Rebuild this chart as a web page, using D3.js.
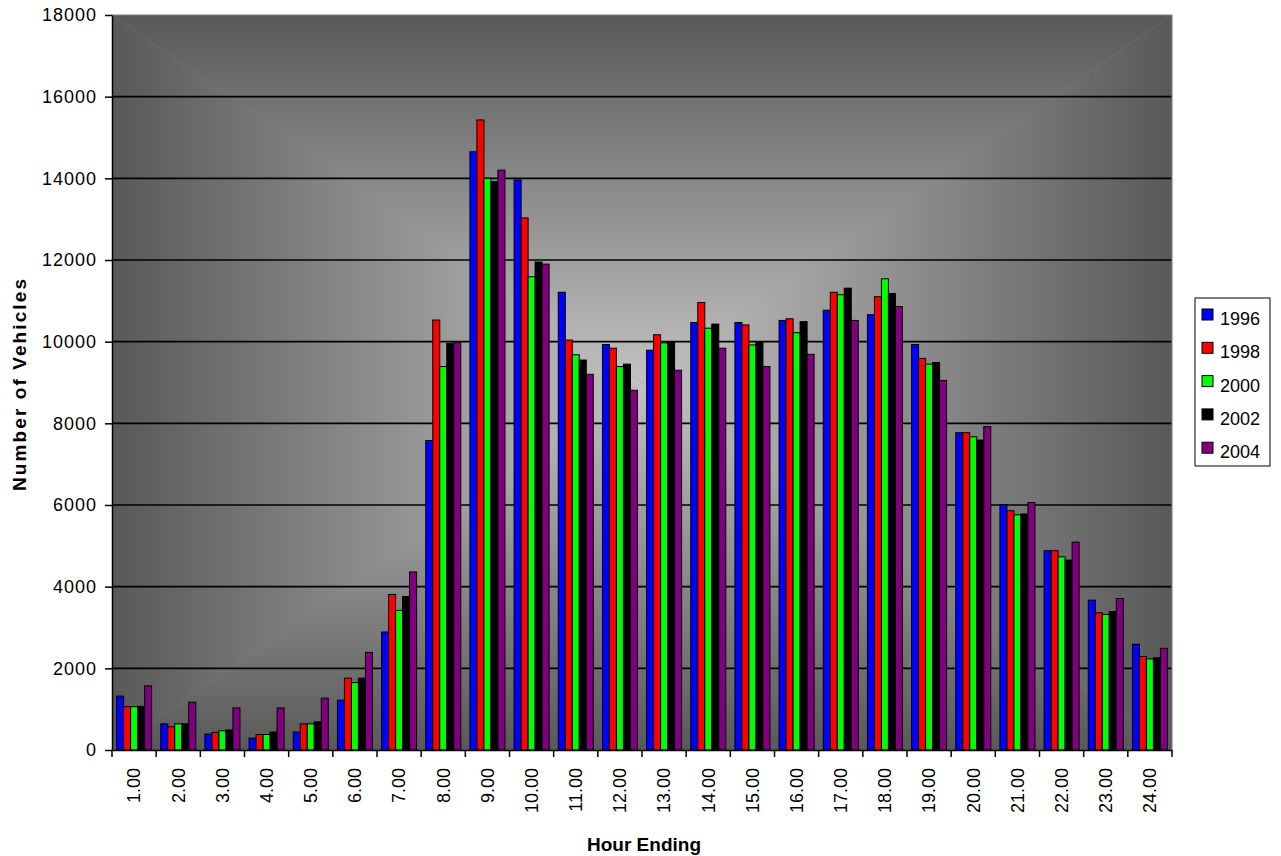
<!DOCTYPE html>
<html>
<head>
<meta charset="utf-8">
<script src="https://cdn.jsdelivr.net/npm/d3@7"></script>
<style>
  html, body { margin: 0; padding: 0; background: #ffffff; }
  svg { display: block; font-family: "Liberation Sans", Arial, sans-serif; }
</style>
</head>
<body>
<svg id="chart" width="1281" height="856"></svg>
<script>
// Hourly traffic volumes by survey year
const hours = ["1.00","2.00","3.00","4.00","5.00","6.00","7.00","8.00","9.00","10.00","11.00","12.00",
               "13.00","14.00","15.00","16.00","17.00","18.00","19.00","20.00","21.00","22.00","23.00","24.00"];
const years = ["1996","1998","2000","2002","2004"];
const v1996 = [1320, 640, 390, 290, 440, 1220, 2890, 7580, 14650, 13960, 11210, 9930, 9790, 10470, 10470, 10520, 10770, 10660, 9930, 7770, 6010, 4880, 3670, 2590];
const v1998 = [1060, 570, 430, 380, 640, 1760, 3810, 10530, 15430, 13030, 10040, 9840, 10170, 10960, 10410, 10560, 11210, 11100, 9590, 7770, 5860, 4880, 3360, 2290];
const v2000 = [1060, 640, 470, 380, 640, 1650, 3420, 9390, 14000, 11590, 9680, 9390, 9970, 10330, 9920, 10220, 11150, 11540, 9450, 7670, 5760, 4730, 3320, 2230];
const v2002 = [1070, 640, 490, 440, 690, 1760, 3760, 9960, 13920, 11950, 9550, 9450, 9990, 10430, 9990, 10490, 11310, 11180, 9490, 7590, 5780, 4650, 3390, 2260];
const v2004 = [1570, 1170, 1030, 1030, 1270, 2390, 4360, 9980, 14200, 11900, 9200, 8810, 9300, 9840, 9390, 9690, 10520, 10860, 9050, 7920, 6060, 5090, 3710, 2490];
const yTicks = [0, 2000, 4000, 6000, 8000, 10000, 12000, 14000, 16000, 18000];
const seriesColors = ["#0000ff", "#ff0000", "#00ff00", "#000000", "#800080"];

const seriesValues = [v1996, v1998, v2000, v2002, v2004];
const rows = hours.map((h, i) => ({
  hour: h,
  values: years.map((y, s) => ({ year: y, value: seriesValues[s][i] }))
}));

const svg = d3.select("#chart");
const plot = { left: 112, right: 1172, top: 15, bottom: 750 };

const x0 = d3.scaleBand().domain(hours).range([plot.left, plot.right]).padding(0);
const x1 = d3.scaleBand().domain(years).range([4.6, 4.6 + 35]);
const y = d3.scaleLinear().domain([0, 18000]).range([plot.bottom, plot.top]);
const color = d3.scaleOrdinal().domain(years).range(seriesColors);

// Plot area background: box gradient, light in the middle, darker toward every edge
const cx = (plot.left + plot.right) / 2, cy = (plot.top + plot.bottom) / 2;
const edgeColor = "#595959", centerColor = "#c2c2c2";
const defs = svg.append("defs");
const sides = [
  { id: "gTop",    g: [cx, plot.top, cx, cy],    pts: [[plot.left, plot.top], [plot.right, plot.top], [cx, cy]] },
  { id: "gBottom", g: [cx, plot.bottom, cx, cy], pts: [[plot.left, plot.bottom], [plot.right, plot.bottom], [cx, cy]] },
  { id: "gLeft",   g: [plot.left, cy, cx, cy],   pts: [[plot.left, plot.top], [plot.left, plot.bottom], [cx, cy]] },
  { id: "gRight",  g: [plot.right, cy, cx, cy],  pts: [[plot.right, plot.top], [plot.right, plot.bottom], [cx, cy]] }
];
sides.forEach(s => {
  const lg = defs.append("linearGradient").attr("id", s.id).attr("gradientUnits", "userSpaceOnUse")
    .attr("x1", s.g[0]).attr("y1", s.g[1]).attr("x2", s.g[2]).attr("y2", s.g[3]);
  lg.append("stop").attr("offset", "0").attr("stop-color", edgeColor);
  lg.append("stop").attr("offset", "1").attr("stop-color", centerColor);
});
const bg = svg.append("g");
bg.append("rect")
  .attr("x", plot.left).attr("y", plot.top)
  .attr("width", plot.right - plot.left).attr("height", plot.bottom - plot.top)
  .attr("fill", "#8c8c8c");
sides.forEach(s => {
  bg.append("path")
    .attr("d", d3.line()(s.pts) + "Z")
    .attr("fill", `url(#${s.id})`);
});

// Horizontal gridlines
svg.append("g").selectAll("line")
  .data(yTicks.filter(t => t > 0 && t < 18000))
  .join("line")
  .attr("x1", plot.left).attr("x2", plot.right)
  .attr("y1", d => y(d)).attr("y2", d => y(d))
  .attr("stroke", "#000").attr("stroke-width", 1.6);

// Plot area outline (top and right)
svg.append("path")
  .attr("d", `M${plot.left},${plot.top}H${plot.right}V${plot.bottom}`)
  .attr("fill", "none").attr("stroke", "#808080").attr("stroke-width", 1.2);

// Bars
svg.append("g").selectAll("g")
  .data(rows)
  .join("g")
  .attr("transform", d => `translate(${x0(d.hour)},0)`)
  .selectAll("rect")
  .data(d => d.values)
  .join("rect")
  .attr("x", d => x1(d.year))
  .attr("y", d => y(d.value))
  .attr("width", x1.bandwidth())
  .attr("height", d => y(0) - y(d.value))
  .attr("fill", d => color(d.year))
  .attr("stroke", "#000")
  .attr("stroke-width", 1);

// Y axis
const yAxis = svg.append("g")
  .attr("transform", `translate(${plot.left},0)`)
  .call(d3.axisLeft(y).tickValues(yTicks).tickFormat(d3.format("d")).tickSizeInner(7).tickSizeOuter(0).tickPadding(8));
yAxis.select(".domain").attr("stroke", "#000").attr("stroke-width", 1.5);
yAxis.selectAll(".tick line").attr("stroke", "#000").attr("stroke-width", 1.5);
yAxis.selectAll(".tick text").attr("font-size", 18).attr("fill", "#000")
  .attr("letter-spacing", "1px")
  .attr("font-family", "'Liberation Sans', Arial, sans-serif");

// X axis: ticks sit on the category boundaries
const xAxis = svg.append("g")
  .attr("transform", `translate(0,${plot.bottom})`)
  .call(d3.axisBottom(x0).tickSize(0).tickFormat(""));
xAxis.select(".domain").attr("stroke", "#000").attr("stroke-width", 1.5);
xAxis.selectAll(".tick").remove();
const boundaries = hours.map(h => x0(h)).concat([x0(hours[hours.length - 1]) + x0.bandwidth()]);
xAxis.append("g").selectAll("line")
  .data(boundaries)
  .join("line")
  .attr("x1", d => d).attr("x2", d => d)
  .attr("y1", 0).attr("y2", 7)
  .attr("stroke", "#000").attr("stroke-width", 1.5);
xAxis.append("g").selectAll("text")
  .data(hours)
  .join("text")
  .attr("transform", d => `translate(${x0(d) + x0.bandwidth() / 2},18) rotate(-90)`)
  .attr("text-anchor", "end")
  .attr("dy", "0.35em")
  .attr("font-size", 18)
  .attr("fill", "#000")
  .text(d => d);

// Axis titles
svg.append("text")
  .attr("x", 644).attr("y", 851)
  .attr("text-anchor", "middle")
  .attr("font-size", 19).attr("font-weight", "bold")
  .text("Hour Ending");
svg.append("text")
  .attr("transform", "translate(26,385) rotate(-90)")
  .attr("text-anchor", "middle")
  .attr("font-size", 19).attr("font-weight", "bold")
  .attr("textLength", 212).attr("lengthAdjust", "spacing")
  .text("Number of Vehicles");

// Legend
const legend = svg.append("g").attr("transform", "translate(1195,298)");
legend.append("rect")
  .attr("width", 75).attr("height", 168)
  .attr("fill", "#fff").attr("stroke", "#000").attr("stroke-width", 1);
const items = legend.selectAll("g.item")
  .data(years)
  .join("g")
  .attr("class", "item")
  .attr("transform", (d, i) => `translate(0,${i * 33.3})`);
items.append("rect")
  .attr("x", 7).attr("y", 11).attr("width", 11).attr("height", 11)
  .attr("fill", d => color(d)).attr("stroke", "#000").attr("stroke-width", 1);
items.append("text")
  .attr("x", 25).attr("y", 27)
  .attr("font-size", 18).attr("fill", "#000")
  .text(d => d);
</script>
</body>
</html>
